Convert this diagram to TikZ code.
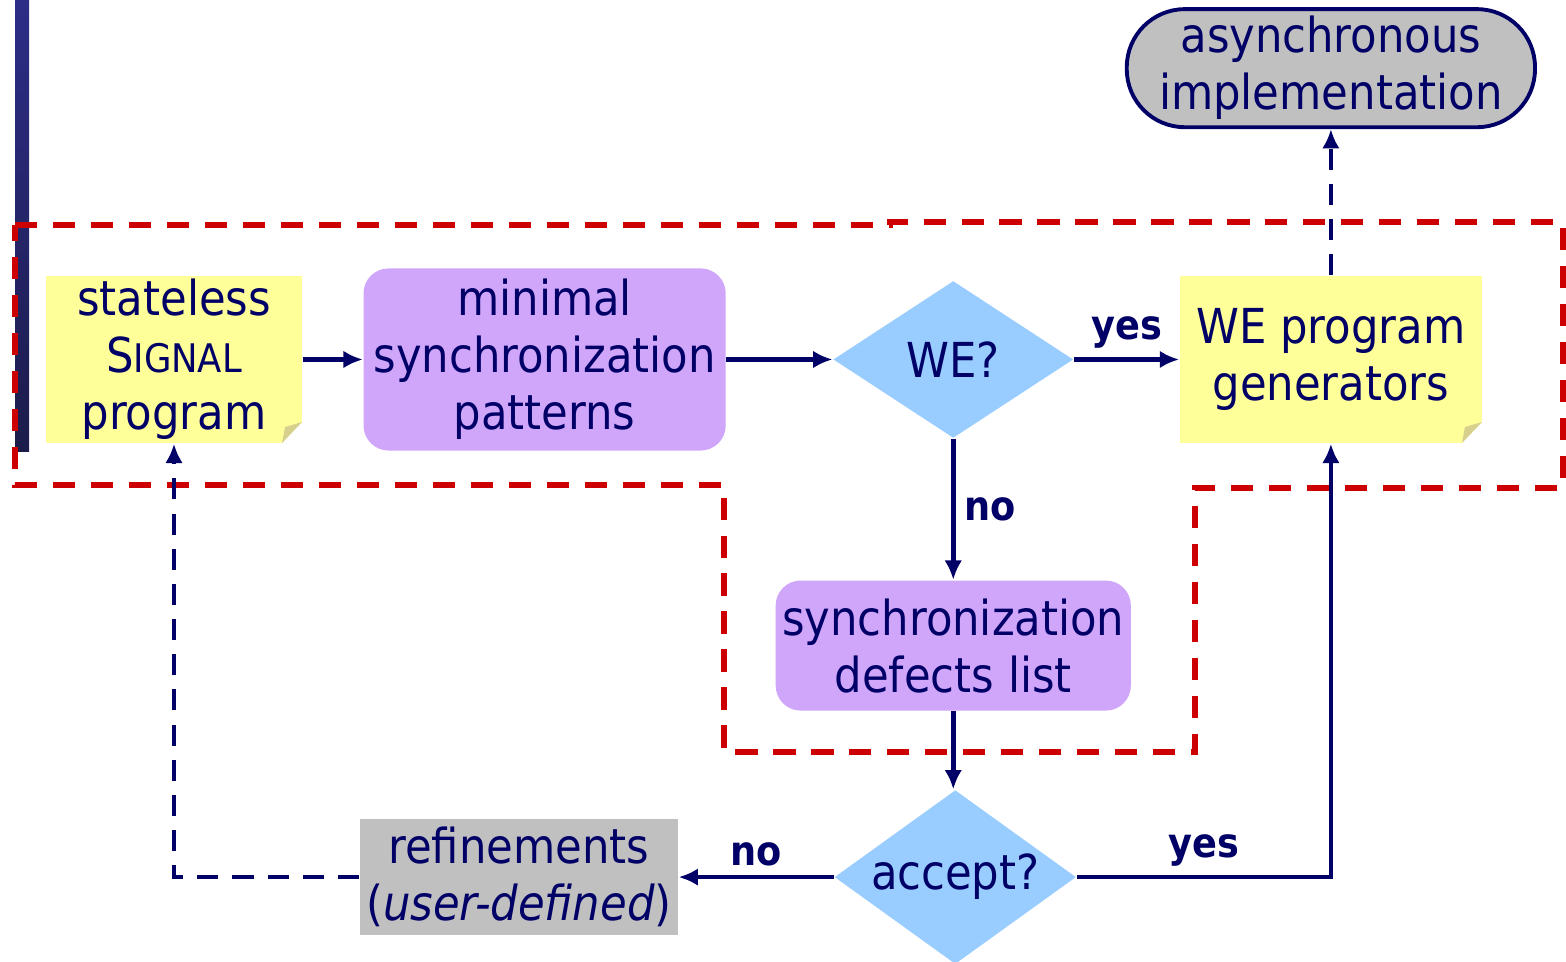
\documentclass[tikz,border=0pt]{standalone}
\usepackage{fontspec}
\setmainfont{DejaVu Sans Condensed}
\usetikzlibrary{positioning,shapes.geometric,arrows.meta}

\definecolor{navy}{RGB}{0,0,102}
\definecolor{noteyellow}{RGB}{255,255,153}
\definecolor{notefold}{RGB}{214,208,140}
\definecolor{lilac}{RGB}{208,166,250}
\definecolor{skyblue}{RGB}{153,204,255}
\definecolor{boxgrey}{RGB}{192,192,192}
\definecolor{zonered}{RGB}{204,0,0}
\definecolor{bartop}{RGB}{45,45,135}
\definecolor{barbottom}{RGB}{28,28,75}

\tikzset{
  every node/.style={text=navy, align=center, inner sep=0pt,
    font=\fontsize{13.7}{16.2}\selectfont},
  note/.style={fill=noteyellow, minimum width=2.56cm, minimum height=1.67cm,
    path picture={
      \fill[white] ([xshift=-0.2cm]path picture bounding box.south east)
        -- (path picture bounding box.south east)
        -- ([yshift=0.21cm]path picture bounding box.south east) -- cycle;
      \fill[notefold] ([xshift=-0.2cm]path picture bounding box.south east)
        -- ([yshift=0.21cm]path picture bounding box.south east)
        -- ([xshift=-0.17cm,yshift=0.16cm]path picture bounding box.south east) -- cycle;
    }},
  pattern box/.style={fill=lilac, rounded corners=0.25cm},
  test/.style={diamond, aspect=1.6, fill=skyblue, minimum width=2.4cm},
  manual/.style={fill=boxgrey},
  terminal/.style={fill=boxgrey, draw=navy, line width=1.1pt, rounded corners=0.58cm,
    minimum width=4.08cm, minimum height=1.18cm},
  flow/.style={draw=navy, line width=1.35pt, -{Latex[length=5.5pt,width=5pt]}},
  back/.style={flow, dash pattern=on 6pt off 4pt},
  answer/.style={font=\fontsize{11.6}{14}\selectfont\bfseries, inner sep=2.5pt},
  zone/.style={draw=zonered, line width=1.6pt, dash pattern=on 6.3pt off 4.5pt}
}

\begin{document}
\begin{tikzpicture}[x=0.01cm, y=-0.01cm]
\useasboundingbox (0,0) rectangle (1566,962);

\shade[top color=bartop, bottom color=barbottom] (15,0) rectangle (29,452);

\node[note] (stateless) at (174,359.5) {stateless\\S{\fontsize{11.2}{16.2}\selectfont IGNAL}\\program};
\node[pattern box, minimum width=3.62cm, minimum height=1.82cm, right=0.6cm of stateless] (minimal) {minimal\\synchronization\\patterns};
\node[test, minimum height=1.57cm, right=1.06cm of minimal] (we) {WE?};
\node[note, minimum width=3.02cm, right=1.05cm of we] (gen) {WE program\\generators};
\node[terminal, above=1.46cm of gen] (async) {asynchronous\\implementation};
\node[pattern box, minimum width=3.55cm, minimum height=1.3cm, below=1.41cm of we] (defects) {synchronization\\defects list};
\node[test, minimum height=1.74cm, below=0.78cm of defects, xshift=0.02cm] (accept) {accept?};
\node[manual, minimum width=3.18cm, minimum height=1.16cm, left=1.55cm of accept] (refine) {refinements\\(\textit{user-defined})};

\draw[zone] (15,225) -- (890,225) -- (890,222) -- (1563,222) -- (1563,488)
  -- (1195,488) -- (1195,752) -- (724,752) -- (724,485) -- (15,485) -- cycle;

\draw[flow] (stateless) -- (minimal);
\draw[flow] (minimal) -- (we);
\draw[flow] (we) -- node[answer, above] {yes} (gen);
\draw[flow] (we) -- node[answer, right] {no} (defects);
\draw[flow] (defects) -- (defects |- accept.north);
\draw[flow] (accept) -- node[answer, above] {no} (refine);
\draw[flow] (accept) -| node[answer, above, pos=0.25] {yes} (gen);
\draw[back] (refine) -| (stateless);
\draw[back] (gen) -- (async);

\end{tikzpicture}
\end{document}
